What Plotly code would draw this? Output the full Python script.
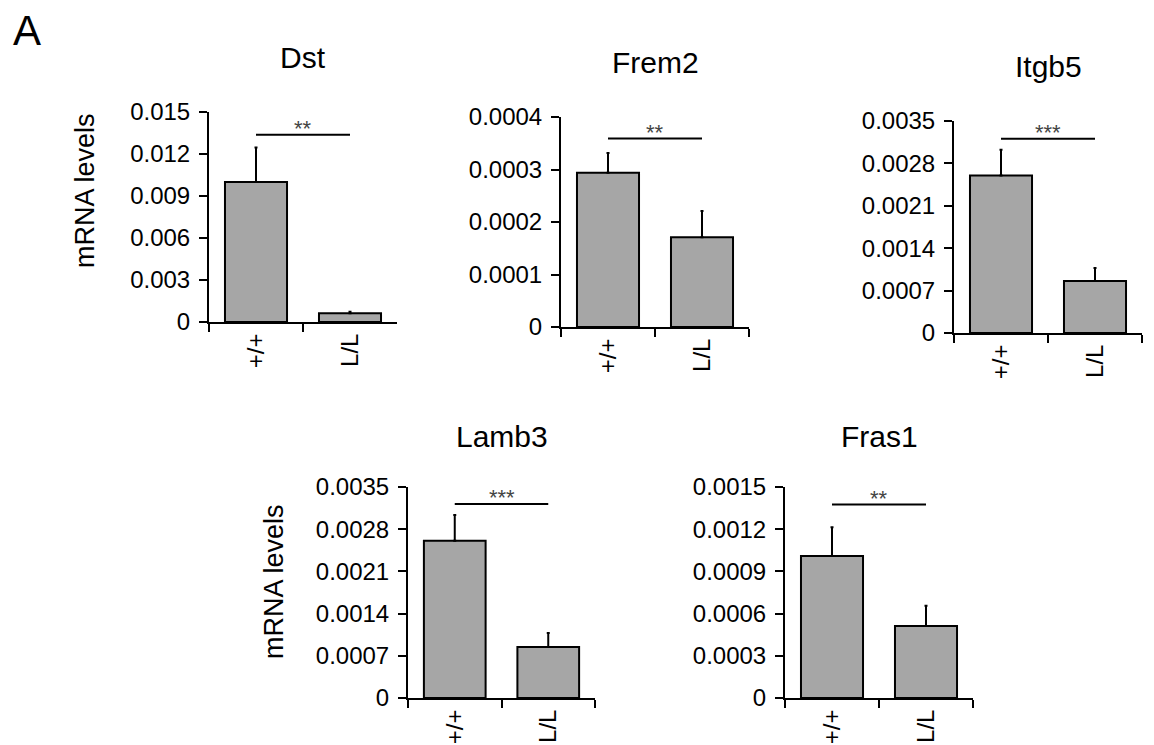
import plotly.graph_objects as go

# ---------------- data ----------------
genes = ["Dst", "Frem2", "Itgb5", "Lamb3", "Fras1"]
groups = ["+/+", "L/L"]

dst_mean = [0.0100, 0.00062]
dst_err = [0.00247, 0.00011]
frem2_mean = [0.000294, 0.000171]
frem2_err = [0.0000376, 0.0000500]
itgb5_mean = [0.00260, 0.000858]
itgb5_err = [0.000425, 0.000215]
lamb3_mean = [0.00261, 0.000846]
lamb3_err = [0.000427, 0.000232]
fras1_mean = [0.00101, 0.000512]
fras1_err = [0.000204, 0.000144]

sig_labels = ["**", "**", "***", "***", "**"]
sig_heights = [0.01338, 0.000359, 0.003209, 0.003218, 0.001375]

dst_ticks = ["0", "0.003", "0.006", "0.009", "0.012", "0.015"]
frem2_ticks = ["0", "0.0001", "0.0002", "0.0003", "0.0004"]
itgb5_ticks = ["0", "0.0007", "0.0014", "0.0021", "0.0028", "0.0035"]
lamb3_ticks = ["0", "0.0007", "0.0014", "0.0021", "0.0028", "0.0035"]
fras1_ticks = ["0", "0.0003", "0.0006", "0.0009", "0.0012", "0.0015"]

y_label = "mRNA levels"
panel_letter = "A"

means = [dst_mean, frem2_mean, itgb5_mean, lamb3_mean, fras1_mean]
errs = [dst_err, frem2_err, itgb5_err, lamb3_err, fras1_err]
ticks = [dst_ticks, frem2_ticks, itgb5_ticks, lamb3_ticks, fras1_ticks]

# ---------------- layout (pixels, page coordinates) ----------------
W, H = 1154, 745
OFF = 8  # default body margin of the html page
# (left, right, top, bottom) of each plot area in pixels
boxes = [
    (209, 397, 112, 322),
    (561, 749, 117, 327),
    (954, 1142, 121, 333),
    (408, 595, 487, 698),
    (785, 973, 487, 698),
]
title_y_px = [57, 62, 66, 436, 436]
ylabel_panels = {0: (85, 191), 3: (274, 582)}


def px_x(p):
    return (p - OFF) / W


def px_y(p):
    return 1 - (p - OFF) / H


FONT = "Liberation Sans, Arial, sans-serif"
BAR_COLOR = "#A6A6A6"

fig = go.Figure()
shapes = []
annotations = []

for i, gene in enumerate(genes):
    l, r, t, b = boxes[i]
    sfx = "" if i == 0 else str(i + 1)
    xa = "x" + sfx
    ya = "y" + sfx
    fig.add_trace(go.Bar(
        x=groups, y=means[i],
        width=0.66,
        marker=dict(color=BAR_COLOR, line=dict(color="black", width=2)),
        error_y=dict(type="data", array=errs[i], arrayminus=[0] * len(errs[i]),
                     symmetric=False, color="black", thickness=2, width=1.5),
        xaxis=xa, yaxis=ya, showlegend=False,
    ))
    tvals = [float(v) for v in ticks[i]]
    fig.layout["xaxis" + sfx] = dict(
        domain=[px_x(l), px_x(r)], anchor=ya, type="category", range=[-0.5, 1.5],
        showline=True, linecolor="black", linewidth=2,
        ticks="outside", tickson="boundaries", ticklen=8, tickwidth=2, tickcolor="black",
        tickangle=-90, tickfont=dict(family=FONT, size=24, color="black"),
        showgrid=False, zeroline=False, fixedrange=True, automargin=False,
    )
    fig.layout["yaxis" + sfx] = dict(
        domain=[px_y(b), px_y(t)], anchor=xa, range=[0, tvals[-1]],
        tickvals=tvals, ticktext=ticks[i],
        showline=True, linecolor="black", linewidth=2,
        ticks="outside", ticklen=8, tickwidth=2, tickcolor="black",
        tickfont=dict(family=FONT, size=24, color="black"),
        ticklabelstandoff=4,
        showgrid=False, zeroline=False, fixedrange=True, automargin=False,
    )
    # significance bracket
    shapes.append(dict(type="line", xref=xa, yref=ya, x0=0, x1=1,
                       y0=sig_heights[i], y1=sig_heights[i],
                       line=dict(color="black", width=2)))
    annotations.append(dict(xref=xa, yref=ya, x=0.5, y=sig_heights[i],
                            text=sig_labels[i], showarrow=False,
                            yanchor="bottom", yshift=-8,
                            font=dict(family=FONT, size=22, color="#444444")))
    # title
    annotations.append(dict(xref="paper", yref="paper", x=px_x((l + r) / 2),
                            y=px_y(title_y_px[i]), text=gene, showarrow=False,
                            xanchor="center", yanchor="middle",
                            font=dict(family=FONT, size=30, color="black")))
    if i in ylabel_panels:
        cx, cy = ylabel_panels[i]
        annotations.append(dict(xref="paper", yref="paper", x=px_x(cx), y=px_y(cy),
                                text=y_label, textangle=-90, showarrow=False,
                                xanchor="center", yanchor="middle",
                                font=dict(family=FONT, size=27, color="black")))

annotations.append(dict(xref="paper", yref="paper", x=px_x(27), y=px_y(30),
                        text=panel_letter, showarrow=False,
                        xanchor="center", yanchor="middle",
                        font=dict(family=FONT, size=42, color="black")))

fig.update_layout(
    width=W, height=H,
    margin=dict(l=0, r=0, t=0, b=0, autoexpand=False),
    paper_bgcolor="white", plot_bgcolor="white",
    shapes=shapes, annotations=annotations,
    bargap=0.34,
)

fig.write_html("out.html")
